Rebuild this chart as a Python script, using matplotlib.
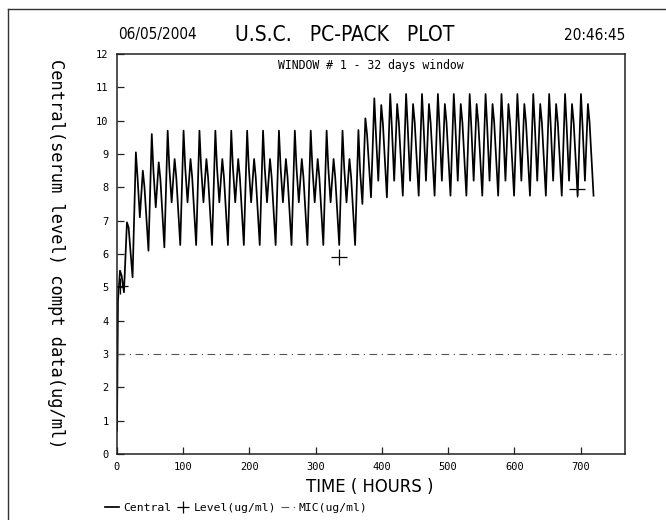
import numpy as np
import matplotlib
matplotlib.use("Agg")
import matplotlib.pyplot as plt
from matplotlib.lines import Line2D

# ---------------- data ----------------
# initial rise at t = 0
init_t = [0.0, 1.5]
init_v = [0.7, 4.6]

# per-day key levels (day 0 .. day 29), ug/ml
main_peak = [5.5, 9.05, 9.6] + [9.7] * 12 + [9.72, 10.67] + [10.8] * 13
shoulder1 = [5.35, 8.3, 8.5] + [8.6] * 12 + [8.5, 9.6] + [9.8] * 13
mid_trough = [4.85, 7.1, 7.4] + [7.55] * 12 + [7.5, 8.2] + [8.2] * 13
second_peak = [6.95, 8.5, 8.75] + [8.85] * 12 + [10.07, 10.47] + [10.5] * 13
shoulder2 = [6.8, 8.0, 8.25] + [8.3] * 12 + [9.6, 9.9] + [9.95] * 13
day_trough = [5.3, 6.1, 6.2] + [6.27] * 12 + [7.7, 7.7] + [7.75] * 13

# hour within each 24 h day at which each key level occurs
key_hours = [4.5, 7.0, 10.5, 15.0, 17.5, 23.5]

# measured levels (+ markers)
level_t = [5, 335, 694]
level_v = [5.05, 5.9, 7.95]

mic_value = 3.0

# ---------------- build curve ----------------
t = list(init_t)
v = list(init_v)
for d in range(len(main_peak)):
    vals = [main_peak[d], shoulder1[d], mid_trough[d],
            second_peak[d], shoulder2[d], day_trough[d]]
    for h, val in zip(key_hours, vals):
        t.append(24 * d + h)
        v.append(val)

# ---------------- figure ----------------
W, H = 666, 520
fig = plt.figure(figsize=(W / 100, H / 100), dpi=100)
fig.patch.set_facecolor("white")

def fx(px):
    return px / W

def fy(py):
    return 1 - py / H

# outer frame (left and top visible)
fig.add_artist(Line2D([fx(8), fx(8)], [fy(8.5), 0], color="#333333", lw=1.0))
fig.add_artist(Line2D([fx(8), 1], [fy(8.5), fy(8.5)], color="#333333", lw=1.0))

ax_l, ax_r, ax_t, ax_b = 117, 625, 54, 454
ax = fig.add_axes([fx(ax_l), fy(ax_b), (ax_r - ax_l) / W, (ax_b - ax_t) / H])

ax.plot(t, v, color="black", lw=1.25, label="Central")
ax.plot(level_t, level_v, linestyle="none", marker="+", markersize=11,
        markeredgewidth=0.9, color="black", label="Level(ug/ml)")
mic_line, = ax.plot([0, 762], [mic_value, mic_value], color="#555555", lw=0.8,
                    label="MIC(ug/ml)")
mic_line.set_dashes([7, 4, 1.2, 4])

ax.set_xlim(0, 767)
ax.set_ylim(0, 12)
ax.set_xticks(range(0, 701, 100))
ax.set_yticks(range(0, 13))

mono = "DejaVu Sans Mono"
for s in ax.spines.values():
    s.set_color("#222222")
    s.set_linewidth(1.1)
ax.tick_params(direction="in", length=5, width=0.9, color="#222222",
               labelsize=7.5, pad=6)
for lab in ax.get_xticklabels() + ax.get_yticklabels():
    lab.set_family(mono)

ax.set_ylabel("Central(serum level) compt data(ug/ml)", family=mono,
              fontsize=12.3, rotation=270)
ax.yaxis.set_label_coords((47 - ax_l) / (ax_r - ax_l), (ax_b - 254) / (ax_b - ax_t))

narrow = ["DejaVu Sans"]
fig.text(fx(370), fy(487), "TIME ( HOURS )", family=narrow, fontsize=13.2,
         fontstretch="condensed", ha="center", va="center")

ax.text(0.5, (ax_b - 66) / (ax_b - ax_t), "WINDOW # 1 - 32 days window",
        transform=ax.transAxes, family=mono, fontsize=8.3, ha="center", va="center")

# header
fig.text(fx(118), fy(35), "06/05/2004", family=narrow, fontsize=11,
         fontstretch="condensed", ha="left", va="center")
fig.text(fx(345), fy(35), "U.S.C.   PC-PACK   PLOT", family=narrow, fontsize=15,
         fontstretch="condensed", ha="center", va="center")
fig.text(fx(625), fy(35), "20:46:45", family=narrow, fontsize=11,
         fontstretch="condensed", ha="right", va="center")

# legend below the axes
handles, labels = ax.get_legend_handles_labels()
leg = fig.legend(handles, labels, loc="center left",
                 bbox_to_anchor=(fx(100), fy(508)), ncol=3, frameon=False,
                 prop={"family": mono, "size": 8.2}, handlelength=1.3,
                 handletextpad=0.3, columnspacing=0.4, borderaxespad=0,
                 markerscale=0.75)

fig.savefig("out.png", dpi=100)
